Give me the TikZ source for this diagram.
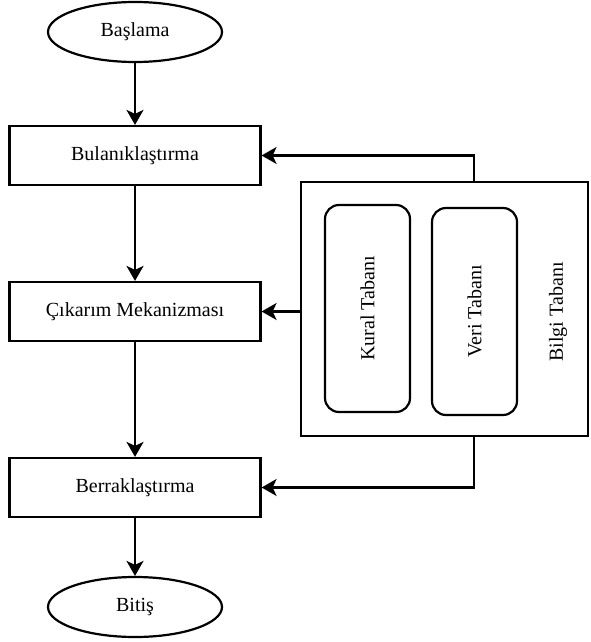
\documentclass[tikz,border=0pt]{standalone}
\usepackage{fontspec}
\setmainfont{Liberation Serif}
\usetikzlibrary{arrows.meta,shapes.geometric}
\begin{document}
\begin{tikzpicture}[x=1pt,y=-1pt,line width=2.2pt,
  every node/.style={font=\fontsize{20}{22}\selectfont},
  term/.style={draw,ellipse,minimum width=174pt,minimum height=60pt,inner sep=0pt},
  proc/.style={draw,rectangle,minimum width=251pt,minimum height=59pt,inner sep=0pt},
  store/.style={draw,rectangle,rounded corners=14pt,minimum width=85pt,minimum height=207pt,inner sep=0pt},
  arr/.style={-{Stealth[length=15pt,width=17pt,inset=4pt]}}]
\useasboundingbox (0,0) rectangle (590,642);
\node[term] (start) at (135,32) {Başlama};
\node[proc] (b1) at (135,155.5) {Bulanıklaştırma};
\node[proc] (b2) at (135,311.5) {Çıkarım Mekanizması};
\node[proc] (b3) at (135,487.5) {Berraklaştırma};
\node[term] (end) at (135,607) {Bitiş};
\node[draw,rectangle,minimum width=287pt,minimum height=254pt,inner sep=0pt] (bilgi) at (444.5,309) {};
\node[store] (kural) at (367.5,308.5) {};
\node[store] (veri) at (474.5,311.5) {};
\node[rotate=90] (kuralt) at (kural.center) {Kural Tabanı};
\node[rotate=90] (verit) at (veri.center) {Veri Tabanı};
\node[rotate=90] (bilgit) at (558,312) {Bilgi Tabanı};
\draw[arr] (start) -- (b1);
\draw[arr] (b1) -- (b2);
\draw[arr] (b2) -- (b3);
\draw[arr] (b3) -- (end);
\draw[arr] ([xshift=174pt]bilgi.north west) |- (b1.east);
\draw[arr] (bilgi.west |- b2.east) -- (b2.east);
\draw[arr] ([xshift=174pt]bilgi.south west) |- (b3.east);
\end{tikzpicture}
\end{document}
